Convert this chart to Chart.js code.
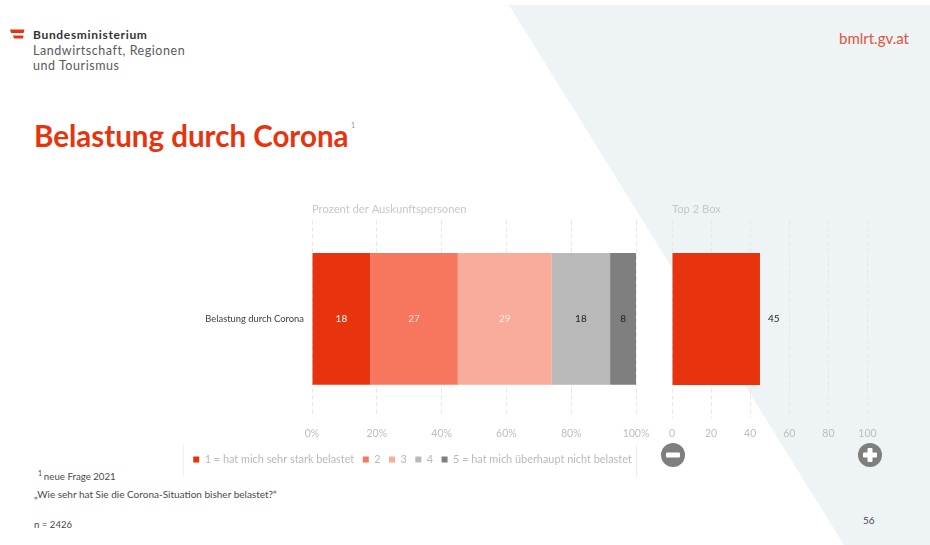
<!DOCTYPE html>
<html lang="de">
<head>
<meta charset="utf-8">
<title>Belastung durch Corona</title>
<script src="https://cdn.jsdelivr.net/npm/chart.js@4"></script>
<style>
    html, body { margin: 0; padding: 0; background: #fff; }
    #slide { position: relative; width: 930px; height: 545px; overflow: hidden; font-family: Lato, sans-serif; }
    #slide > * { position: absolute; }
    #backdrop { left: 0; top: 0; }
    .text { white-space: nowrap; line-height: 1; }
    .ministry { left: 33px; font-size: 12.5px; letter-spacing: 0.55px; color: #5a5a5a; }
    .note { color: #4a4a4a; }
    #legendFrame { left: 183px; top: 445px; width: 452px; height: 32px; border-left: 1px solid #f2f2f2; border-right: 1px solid #ececec; }
</style>
</head>
<body>
<div id="slide">
    <svg id="backdrop" width="930" height="545">
        <polygon points="509,5 930,5 930,545 844,545" fill="#eef3f6"/>
        <polygon points="10,29.5 24.5,29.5 23.5,33 11,33" fill="#e8340e"/>
        <polygon points="13,35.5 23.5,35.5 23,38.5 14,38.5" fill="#e8340e"/>
    </svg>

    <div class="text ministry" style="top:29px;color:#333;font-weight:700;font-size:12px;letter-spacing:0.67px">Bundesministerium</div>
    <div class="text ministry" style="top:45px">Landwirtschaft, Regionen</div>
    <div class="text ministry" style="top:60px">und Tourismus</div>
    <div class="text" style="left:839px;top:31px;font-size:15px;color:#e2553a">bmlrt.gv.at</div>
    <div class="text" style="left:34px;top:121px;font-size:29.5px;font-weight:700;color:#e8340e">Belastung durch Corona</div>
    <div class="text" style="left:351px;top:122px;font-size:7px;color:#999">1</div>

    <div id="legendFrame"></div>
    <canvas id="scaleChart" width="476" height="274" style="left:174px;top:201px"></canvas>
    <canvas id="topBoxChart" width="250" height="274" style="left:652px;top:201px"></canvas>

    <svg style="left:660px;top:442px" width="26" height="26">
        <circle cx="13" cy="13" r="12" fill="#7f7f7f"/>
        <rect x="6" y="10.5" width="14" height="5" rx="1" fill="#fff"/>
    </svg>
    <svg style="left:857px;top:442px" width="26" height="26">
        <circle cx="13" cy="13" r="12" fill="#7f7f7f"/>
        <rect x="6" y="10.5" width="14" height="5" rx="1" fill="#fff"/>
        <rect x="10.5" y="6" width="5" height="14" rx="1" fill="#fff"/>
    </svg>

    <div class="text note" style="left:38px;top:472px;font-size:9.7px"><sup style="font-size:7px;line-height:0">1 </sup>neue Frage 2021</div>
    <div class="text note" style="left:34px;top:489px;font-size:10px">„Wie sehr hat Sie die Corona-Situation bisher belastet?“</div>
    <div class="text note" style="left:34px;top:520px;font-size:9.6px">n = 2426</div>
    <div class="text note" style="left:863px;top:515px;font-size:10px">56</div>
</div>

<script>
const categories = ['Belastung durch Corona'];
const scaleLabels = ['1 = hat mich sehr stark belastet', '2', '3', '4', '5 = hat mich überhaupt nicht belastet'];
const answer1 = [18];
const answer2 = [27];
const answer3 = [29];
const answer4 = [18];
const answer5 = [8];
const topTwoBox = [45];

const scaleColors = ['#e8340e', '#f6765e', '#f9ab9c', '#b9b9b9', '#7f7f7f'];
const scaleLabelColors = ['#ffffff', '#fde4de', '#fdeee9', '#222222', '#222222'];
const tickColor = '#bdbdbd';
const gridColor = '#e6e6e6';
const fontFamily = 'Lato, sans-serif';

// writes each dataset's value on or next to its bar
const barValues = {
    id: 'barValues',
    afterDatasetsDraw(chart, args, opts) {
        const ctx = chart.ctx;
        ctx.save();
        ctx.font = '10px ' + fontFamily;
        ctx.textBaseline = 'middle';
        chart.data.datasets.forEach((dataset, i) => {
            chart.getDatasetMeta(i).data.forEach((bar, j) => {
                const value = dataset.data[j];
                ctx.fillStyle = opts.colors[i];
                if (opts.outside) {
                    ctx.textAlign = 'left';
                    ctx.fillText(value, bar.x + 8, bar.y);
                } else {
                    ctx.textAlign = 'center';
                    ctx.fillText(value, (bar.base + bar.x) / 2, bar.y);
                }
            });
        });
        ctx.restore();
    }
};

// moves the legend a little to the right of where the layout centres it
const legendShift = {
    id: 'legendShift',
    afterLayout(chart) {
        chart.legend.left += 7.5;
        chart.legend.right += 7.5;
    }
};

function valueAxis(suffix) {
    return {
        min: 0,
        max: 100,
        stacked: true,
        // fixed height, and no extra room asked for the end labels
        afterFit: scale => {
            scale.height = 28.5;
            scale.paddingLeft = 0;
            scale.paddingRight = 0;
        },
        border: { display: false, dash: [4, 3] },
        grid: { color: gridColor, drawTicks: false },
        ticks: {
            stepSize: 20,
            padding: 10,
            maxRotation: 0,
            color: tickColor,
            font: { family: fontFamily, size: 10.5 },
            callback: value => value + suffix
        }
    };
}

function axisTitle(text) {
    return {
        display: true,
        text: text,
        align: 'start',
        fullSize: false,
        color: '#c8c8c8',
        font: { family: fontFamily, size: 11.2, weight: 'normal' },
        padding: { top: 2, bottom: 4 }
    };
}

const scaleSeries = [answer1, answer2, answer3, answer4, answer5];

new Chart(document.getElementById('scaleChart'), {
    type: 'bar',
    plugins: [barValues, legendShift],
    data: {
        labels: categories,
        datasets: scaleSeries.map((values, i) => ({
            label: scaleLabels[i],
            data: values,
            backgroundColor: scaleColors[i],
            barPercentage: 0.67,
            categoryPercentage: 1
        }))
    },
    options: {
        indexAxis: 'y',
        responsive: false,
        animation: false,
        layout: { padding: { right: 14 } },
        scales: {
            x: valueAxis('%'),
            y: {
                stacked: true,
                afterFit: scale => { scale.width = 138; },
                border: { display: false },
                grid: { display: false, drawTicks: false },
                ticks: { padding: 8, color: '#404040', font: { family: fontFamily, size: 9.4 } }
            }
        },
        plugins: {
            title: axisTitle('Prozent der Auskunftspersonen'),
            tooltip: { enabled: false },
            barValues: { colors: scaleLabelColors },
            legend: {
                position: 'bottom',
                labels: {
                    boxWidth: 6,
                    boxHeight: 6,
                    padding: 8.5,
                    color: '#b9b9b9',
                    font: { family: fontFamily, size: 10.9 }
                }
            }
        }
    }
});

new Chart(document.getElementById('topBoxChart'), {
    type: 'bar',
    plugins: [barValues],
    data: {
        labels: categories,
        datasets: [{
            data: topTwoBox,
            backgroundColor: scaleColors[0],
            barPercentage: 0.67,
            categoryPercentage: 1
        }]
    },
    options: {
        indexAxis: 'y',
        responsive: false,
        animation: false,
        layout: { padding: { left: 20, right: 34.5, bottom: 29 } },
        scales: {
            x: valueAxis(''),
            y: { display: false, stacked: true }
        },
        plugins: {
            title: axisTitle('Top 2 Box'),
            legend: { display: false },
            tooltip: { enabled: false },
            barValues: { colors: ['#222222'], outside: true }
        }
    }
});
</script>
</body>
</html>
